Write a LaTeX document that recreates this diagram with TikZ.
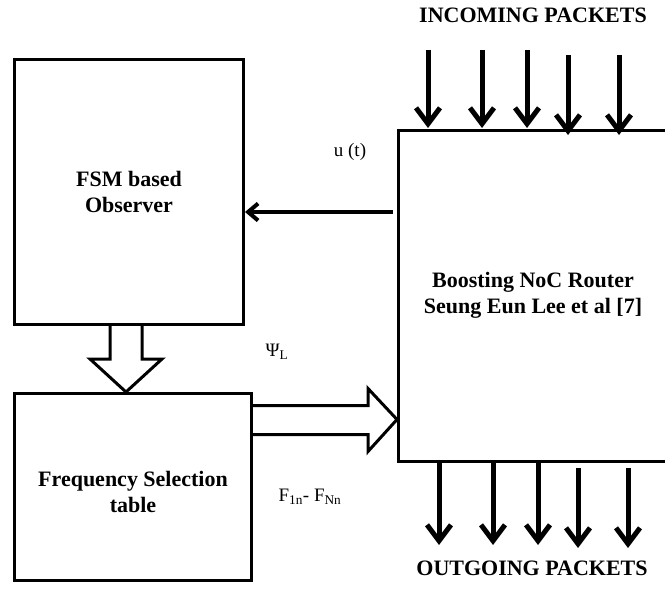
\documentclass[tikz,border=0pt]{standalone}
\usepackage{fontspec}
\setmainfont{Liberation Serif}
\usetikzlibrary{arrows.meta,positioning}

\begin{document}
\begin{tikzpicture}[x=1pt,y=-1pt,
    block/.style = {draw, line width=3pt, align=center,
      font=\bfseries\fontsize{22}{26}\selectfont},
    caption/.style = {font=\bfseries\fontsize{22}{26}\selectfont},
    sig/.style = {font=\fontsize{19}{21}\selectfont},
    pkt/.style = {line width=5pt, -{Straight Barb[length=16pt,width=24pt]}},
    feedback/.style = {line width=4pt, -{Straight Barb[length=10pt,width=17pt]}},
    hollow/.style = {line width=3pt, line join=miter}
  ]
  \clip (0,0) rectangle (665,589);

  % the three blocks
  \node[block, minimum width=229pt, minimum height=265pt] (obs) at (129,192)
    {FSM based\\Observer};
  \node[block, minimum width=237pt, minimum height=187pt] (freq) at (133,487)
    {\\Frequency Selection\\table};
  \node[block, minimum width=269pt, minimum height=331pt] (router) at (533,295.5)
    {Boosting NoC Router\\Seung Eun Lee et al [7]};

  \node[caption] (inc) at (533,15) {INCOMING PACKETS};
  \node[caption] (out) at (532,568) {OUTGOING PACKETS};

  % packets in and out of the router
  \foreach \x/\ys/\ye [count=\i] in {428/50/128, 482/50/128, 527/50/128, 568/55/135, 619/55/135}{
    \coordinate (in\i) at (\x,\ys);
    \coordinate (inend\i) at (\x,\ye);
    \draw[pkt] (in\i) -- (inend\i);
  }
  \foreach \x/\ys/\ye [count=\i] in {439/463/545, 493/463/545, 538/463/545, 578/468/548, 628/468/548}{
    \coordinate (out\i) at (\x,\ys);
    \coordinate (outend\i) at (\x,\ye);
    \draw[pkt] (out\i) -- (outend\i);
  }

  % u(t) back to the observer
  \coordinate (ut) at (393,212);
  \draw[feedback] (ut) -- (obs.east |- ut);
  \node[sig] (ulabel) at (350,152) {u (t)};

  % block arrows
  \draw[hollow] ([xshift=-19pt]obs.south) -- ++(0,33) -- ++(-20,0) -- ++(36,33)
    -- ++(36,-33) -- ++(-20,0) -- ++(0,-33);
  \draw[hollow] ([yshift=-13.5pt]freq.north east) -- ++(115,0) -- ++(0,-17) -- ++(29,31)
    -- ++(-29,32) -- ++(0,-17) -- ++(-115,0);

  \node[sig] (psi) at (277,352) {Ψ\textsubscript{L}};
  \node[sig] (flabel) at (310,497) {F\textsubscript{1n}- F\textsubscript{Nn}};
\end{tikzpicture}
\end{document}
